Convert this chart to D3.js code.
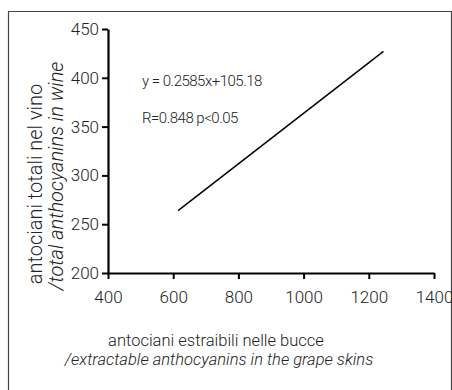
<!DOCTYPE html>
<html><head><meta charset="utf-8">
<script src="https://cdn.jsdelivr.net/npm/d3@7"></script>
<style>
body{margin:0;background:#fff;}
text{font-family:Roboto,"Liberation Sans",sans-serif;font-weight:300;fill:#222;}
</style></head>
<body><svg id="c" width="452" height="390"></svg>
<script>
const xTicks = [400, 600, 800, 1000, 1200, 1400];
const yTicks = [200, 250, 300, 350, 400, 450];
const lineX = [615, 1245];
const lineY = [264, 427];
const equation = "y = 0.2585x+105.18";
const stats = "R=0.848 p<0.05";
const xLabel = "antociani estraibili nelle bucce";
const xLabelEn = "/extractable anthocyanins in the grape skins";
const yLabel = "antociani totali nel vino";
const yLabelEn = "/total anthocyanins in wine";

const svg = d3.select("#c");
// frame
svg.append("path").attr("d","M8.5,400 V11.5 H451.5 V400").attr("fill","none").attr("stroke","#444").attr("stroke-width",1.2);

const x = d3.scaleLinear().domain([400,1400]).range([108,434]);
const y = d3.scaleLinear().domain([200,450]).range([273,29]);

const xa = svg.append("g").attr("transform","translate(0,273)")
  .call(d3.axisBottom(x).tickValues(xTicks).tickFormat(d3.format("d")).tickSize(6).tickPadding(12).tickSizeOuter(0));
const ya = svg.append("g").attr("transform","translate(108,0)")
  .call(d3.axisLeft(y).tickValues(yTicks).tickFormat(d3.format("d")).tickSize(6).tickPadding(3).tickSizeOuter(0));
[xa,ya].forEach(a=>{
  a.select(".domain").attr("stroke","#000").attr("stroke-width",2.2);
  a.selectAll(".tick line").attr("stroke","#000").attr("stroke-width",2);
  a.selectAll(".tick text").attr("font-size",17).attr("font-family",null).attr("fill","#222");
});

const pts = lineX.map((v,i)=>[v,lineY[i]]);
svg.append("path").datum(pts)
  .attr("d", d3.line().x(d=>x(d[0])).y(d=>y(d[1])))
  .attr("fill","none").attr("stroke","#000").attr("stroke-width",1.5);

svg.append("text").attr("x",142).attr("y",86).attr("font-size",15).attr("letter-spacing",-0.5).text(equation);
svg.append("text").attr("x",142).attr("y",123).attr("font-size",15).attr("letter-spacing",-0.5).text(stats);

svg.append("text").attr("x",216).attr("y",346).attr("font-size",16.5).attr("text-anchor","middle").text(xLabel);
svg.append("text").attr("x",219).attr("y",365).attr("font-size",16.5).attr("text-anchor","middle").attr("font-style","italic").text(xLabelEn);

svg.append("text").attr("transform","translate(42,184) rotate(-90)").attr("font-size",20).attr("text-anchor","middle").text(yLabel);
svg.append("text").attr("transform","translate(63,176) rotate(-90)").attr("font-size",20).attr("text-anchor","middle").attr("font-style","italic").text(yLabelEn);
</script></body></html>
